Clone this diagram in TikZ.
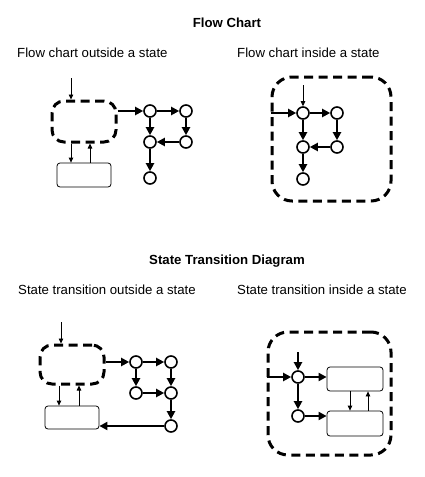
\documentclass[tikz,border=0pt]{standalone}
\usepackage{fontspec}
\setmainfont{Liberation Sans}
\usetikzlibrary{arrows.meta}
\begin{document}
\begin{tikzpicture}[x=1pt,y=-1pt,
  statebox/.style={draw, line width=3pt, dash pattern=on 9pt off 5.5pt, inner sep=0},
  bnode/.style={draw, circle, line width=1.6pt, minimum size=12pt, inner sep=0},
  box/.style={draw, line width=0.8pt, rounded corners=3pt, inner sep=0},
  thk/.style={line width=2.8pt, -{Triangle[length=8pt,width=8pt]}},
  thn/.style={line width=0.8pt, -{Triangle[length=5pt,width=4.5pt]}},
  lbl/.style={anchor=west, inner sep=0, font=\fontsize{13.2}{15}\selectfont},
  ttl/.style={inner sep=0, font=\bfseries\fontsize{13.2}{15}\selectfont}]
\useasboundingbox (0,0) rectangle (424,477);

% titles
\node[ttl] (t1) at (227,23) {Flow Chart};
\node[lbl] (l1) at (17,53) {Flow chart outside a state};
\node[lbl] (l2) at (237,53) {Flow chart inside a state};
\node[ttl] (t2) at (227,261) {State Transition Diagram};
\node[lbl] (l3) at (18,290) {State transition outside a state};
\node[lbl] (l4) at (237,290) {State transition inside a state};

% ---------- panel 1 ----------
\node[statebox, rounded corners=12pt, minimum width=64pt, minimum height=41pt] (s1) at (84,121.5) {};
\node[box, minimum width=54pt, minimum height=24pt] (r1) at (84,175) {};
\coordinate (a1) at (71,78);
\draw[thn] (a1) -- ([xshift=-13pt]s1.north);
\draw[thn] ([xshift=-13pt]s1.south) -- ([xshift=-13pt]r1.north);
\draw[thn] ([xshift=6pt]r1.north) -- ([xshift=6pt]s1.south);
\node[bnode] (c11) at (150,111) {};
\node[bnode] (c12) at (186,111) {};
\node[bnode] (c13) at (150,142) {};
\node[bnode] (c14) at (186,142) {};
\node[bnode] (c15) at (150,178) {};
\draw[thk] (s1.east |- c11) -- (c11);
\draw[thk] (c11) -- (c12);
\draw[thk] (c11) -- (c13);
\draw[thk] (c12) -- (c14);
\draw[thk] (c14) -- (c13);
\draw[thk] (c13) -- (c15);

% ---------- panel 2 ----------
\node[statebox, rounded corners=20pt, minimum width=119pt, minimum height=124pt] (s2) at (331.5,139) {};
\node[bnode] (c21) at (303,113) {};
\node[bnode] (c22) at (337,113) {};
\node[bnode] (c23) at (303,147) {};
\node[bnode] (c24) at (337,147) {};
\node[bnode] (c25) at (303,179) {};
\coordinate (a2) at (303,85);
\draw[thn] (a2) -- (c21);
\draw[thk] (s2.west |- c21) -- (c21);
\draw[thk] (c21) -- (c22);
\draw[thk] (c21) -- (c23);
\draw[thk] (c22) -- (c24);
\draw[thk] (c24) -- (c23);
\draw[thk] (c23) -- (c25);

% ---------- panel 3 ----------
\node[statebox, rounded corners=12pt, minimum width=64pt, minimum height=39pt] (s3) at (72,364.5) {};
\node[box, minimum width=54pt, minimum height=23pt] (r3) at (72,417.5) {};
\coordinate (a3) at (61,322);
\draw[thn] (a3) -- ([xshift=-11pt]s3.north);
\draw[thn] ([xshift=-13pt]s3.south) -- ([xshift=-13pt]r3.north);
\draw[thn] ([xshift=7pt]r3.north) -- ([xshift=7pt]s3.south);
\node[bnode] (c31) at (136,362) {};
\node[bnode] (c32) at (171,362) {};
\node[bnode] (c33) at (136,393) {};
\node[bnode] (c34) at (171,393) {};
\node[bnode] (c35) at (171,426) {};
\draw[thk] (s3.east |- c31) -- (c31);
\draw[thk] (c31) -- (c32);
\draw[thk] (c31) -- (c33);
\draw[thk] (c32) -- (c34);
\draw[thk] (c33) -- (c34);
\draw[thk] (c34) -- (c35);
\draw[thk] (c35) -- (r3.east |- c35);

% ---------- panel 4 ----------
\node[statebox, rounded corners=20pt, minimum width=123pt, minimum height=123pt] (s4) at (329.5,393.5) {};
\node[bnode] (c41) at (298,377) {};
\node[bnode] (c42) at (298,416) {};
\node[box, minimum width=56pt, minimum height=24pt] (r41) at (355,379) {};
\node[box, minimum width=56pt, minimum height=25pt] (r42) at (355,423.5) {};
\coordinate (a4) at (298,352);
\draw[thk] (a4) -- (c41);
\draw[thk] (s4.west |- c41) -- (c41);
\draw[thk] (c41) -- (r41.west |- c41);
\draw[thk] (c41) -- (c42);
\draw[thk] (c42) -- (r42.west |- c42);
\draw[thn] ([xshift=-5pt]r41.south) -- ([xshift=-5pt]r42.north);
\draw[thn] ([xshift=13pt]r42.north) -- ([xshift=13pt]r41.south);
\end{tikzpicture}
\end{document}
